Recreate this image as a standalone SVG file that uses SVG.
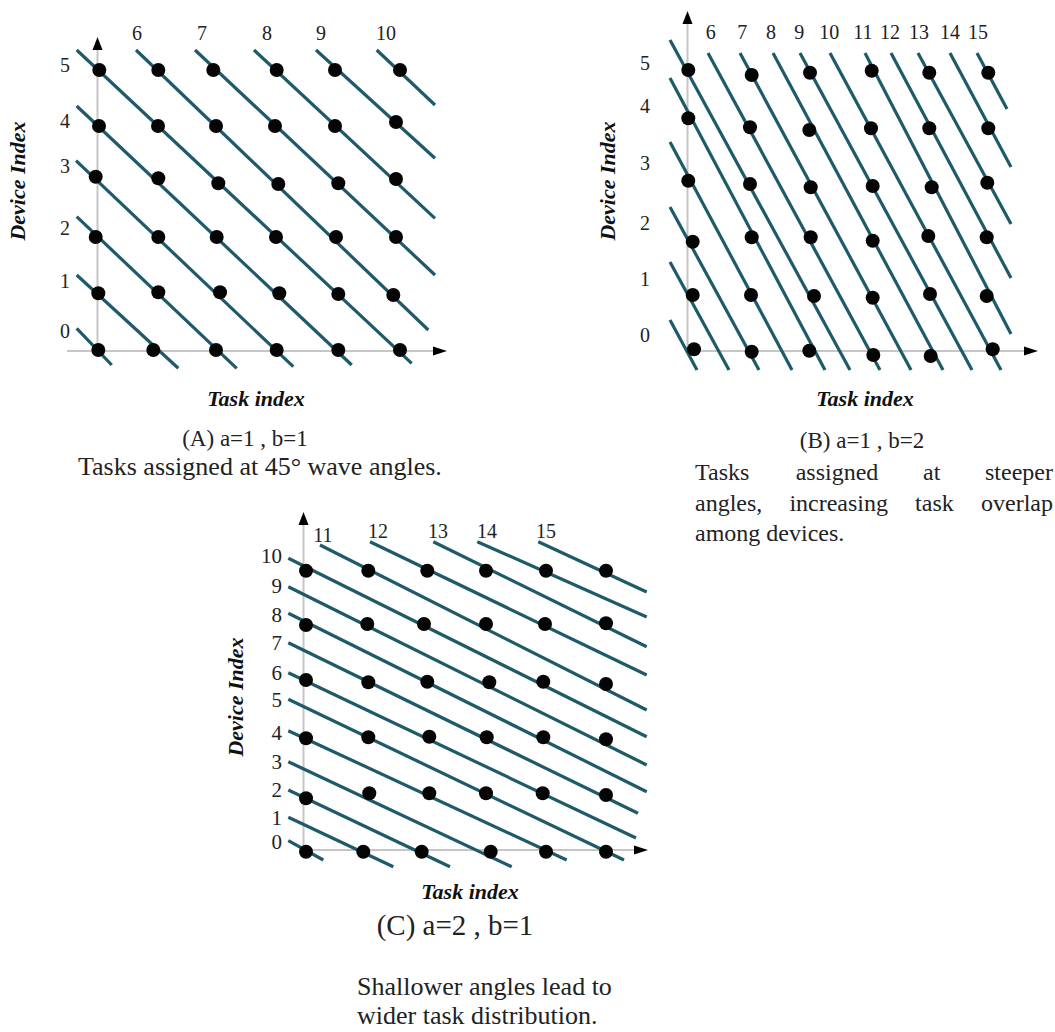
<svg xmlns="http://www.w3.org/2000/svg" width="1055" height="1032" viewBox="0 0 1055 1032">
<style>
.bg{fill:#ffffff}
.axis{stroke:#c6c6c6;stroke-width:2;fill:none}
.arrow{fill:#000}
.wave{stroke:#1f5a6a;stroke-width:3.2;fill:none}
.dot{fill:#050505}
.tick{font-family:"Liberation Serif","Times New Roman",serif;font-size:20px;fill:#222}
.tickc{font-family:"Liberation Serif","Times New Roman",serif;font-size:21px;fill:#222}
.axlabel{font-family:"Liberation Serif","Times New Roman",serif;font-size:22px;font-weight:bold;font-style:italic;fill:#111}
.cap{font-family:"Liberation Serif","Times New Roman",serif;font-size:23px;fill:#222}
.capc{font-family:"Liberation Serif","Times New Roman",serif;font-size:29px;fill:#222}
.desc{font-family:"Liberation Serif","Times New Roman",serif;font-size:26px;fill:#222}
.descb{font-family:"Liberation Serif","Times New Roman",serif;font-size:24px;fill:#222}
.descc{font-family:"Liberation Serif","Times New Roman",serif;font-size:26px;fill:#222}
</style>
<rect class="bg" x="0" y="0" width="1055" height="1032"/>

<!-- Panel A -->
<g id="panel-a">
  <g id="a-axes">
    <line class="axis" x1="97.5" y1="48" x2="97.5" y2="351"/>
    <line class="axis" x1="67" y1="351" x2="435" y2="351"/>
    <polygon class="arrow" points="97.5,37 92.5,50 102.5,50"/>
    <polygon class="arrow" points="447,351 433,346.5 433,355.5"/>
  </g>
  <g id="a-waves">
    <line class="wave" x1="76.7" y1="328.3" x2="111.7" y2="365"/>
    <line class="wave" x1="76.7" y1="275" x2="178.3" y2="368.3"/>
    <line class="wave" x1="76.7" y1="216.7" x2="236.7" y2="368.3"/>
    <line class="wave" x1="76" y1="160.7" x2="293.3" y2="366.7"/>
    <line class="wave" x1="76.7" y1="106" x2="351.7" y2="365"/>
    <line class="wave" x1="76.7" y1="50" x2="411.7" y2="363.3"/>
    <line class="wave" x1="136" y1="50" x2="428.3" y2="330"/>
    <line class="wave" x1="195" y1="50" x2="435" y2="275"/>
    <line class="wave" x1="254" y1="50" x2="435" y2="218.3"/>
    <line class="wave" x1="316" y1="50" x2="435" y2="158.3"/>
    <line class="wave" x1="376.7" y1="50" x2="435" y2="105"/>
  </g>
  <g id="a-dots">
    <circle class="dot" cx="99.3" cy="70" r="7"/><circle class="dot" cx="158.3" cy="70" r="7"/><circle class="dot" cx="213.3" cy="70" r="7"/><circle class="dot" cx="276.7" cy="70" r="7"/><circle class="dot" cx="335" cy="70" r="7"/><circle class="dot" cx="400" cy="70" r="7"/>
    <circle class="dot" cx="99" cy="126" r="7"/><circle class="dot" cx="158" cy="126" r="7"/><circle class="dot" cx="216" cy="126" r="7"/><circle class="dot" cx="275" cy="126" r="7"/><circle class="dot" cx="335" cy="126" r="7"/><circle class="dot" cx="396" cy="122" r="7"/>
    <circle class="dot" cx="95.7" cy="176.7" r="7"/><circle class="dot" cx="158.3" cy="178.3" r="7"/><circle class="dot" cx="218.3" cy="183.3" r="7"/><circle class="dot" cx="278.3" cy="184" r="7"/><circle class="dot" cx="338.3" cy="183.3" r="7"/><circle class="dot" cx="396" cy="179" r="7"/>
    <circle class="dot" cx="95.7" cy="237" r="7"/><circle class="dot" cx="158.3" cy="237" r="7"/><circle class="dot" cx="216.7" cy="237" r="7"/><circle class="dot" cx="276" cy="237" r="7"/><circle class="dot" cx="336" cy="237" r="7"/><circle class="dot" cx="396" cy="237" r="7"/>
    <circle class="dot" cx="98.3" cy="293.3" r="7"/><circle class="dot" cx="158.3" cy="292.3" r="7"/><circle class="dot" cx="220" cy="292.3" r="7"/><circle class="dot" cx="279.3" cy="293.3" r="7"/><circle class="dot" cx="338.3" cy="294" r="7"/><circle class="dot" cx="393.3" cy="295" r="7"/>
    <circle class="dot" cx="98.3" cy="350" r="7"/><circle class="dot" cx="153.3" cy="350" r="7"/><circle class="dot" cx="216" cy="350" r="7"/><circle class="dot" cx="276.7" cy="350" r="7"/><circle class="dot" cx="338.3" cy="350" r="7"/><circle class="dot" cx="400" cy="350" r="7"/>
  </g>
  <g id="a-labels">
    <text class="tick" x="65" y="72" text-anchor="middle">5</text>
    <text class="tick" x="65" y="128" text-anchor="middle">4</text>
    <text class="tick" x="65" y="173" text-anchor="middle">3</text>
    <text class="tick" x="65" y="235" text-anchor="middle">2</text>
    <text class="tick" x="65" y="288" text-anchor="middle">1</text>
    <text class="tick" x="65" y="338" text-anchor="middle">0</text>
    <text class="tick" x="137" y="40" text-anchor="middle">6</text>
    <text class="tick" x="202" y="40" text-anchor="middle">7</text>
    <text class="tick" x="267" y="40" text-anchor="middle">8</text>
    <text class="tick" x="321" y="40" text-anchor="middle">9</text>
    <text class="tick" x="386" y="40" text-anchor="middle">10</text>
    <text class="axlabel" transform="translate(25,181) rotate(-90)" text-anchor="middle">Device Index</text>
    <text class="axlabel" x="256" y="406" text-anchor="middle">Task index</text>
    <text class="cap" x="245" y="446" text-anchor="middle">(A) a=1 , b=1</text>
    <text class="desc" x="78" y="475">Tasks assigned at 45° wave angles.</text>
  </g>
</g>

<!-- Panel B -->
<g id="panel-b">
  <g id="b-axes">
    <line class="axis" x1="687.5" y1="22" x2="687.5" y2="351"/>
    <line class="axis" x1="687" y1="351" x2="1026" y2="351"/>
    <polygon class="arrow" points="687.5,11 682.5,24 692.5,24"/>
    <polygon class="arrow" points="1038,351 1024,346.5 1024,355.5"/>
  </g>
  <g id="b-waves">
    <line class="wave" x1="670" y1="320" x2="697" y2="370"/>
    <line class="wave" x1="670" y1="262" x2="729" y2="370"/>
    <line class="wave" x1="670" y1="207" x2="759" y2="370"/>
    <line class="wave" x1="670" y1="142" x2="792" y2="370"/>
    <line class="wave" x1="670" y1="78" x2="825" y2="370"/>
    <line class="wave" x1="670" y1="40" x2="850" y2="370"/>
    <line class="wave" x1="708" y1="53" x2="880" y2="370"/>
    <line class="wave" x1="740" y1="53" x2="911" y2="370"/>
    <line class="wave" x1="773" y1="53" x2="943" y2="370"/>
    <line class="wave" x1="800" y1="53" x2="972" y2="370"/>
    <line class="wave" x1="830" y1="53" x2="1001" y2="370"/>
    <line class="wave" x1="865" y1="53" x2="1011" y2="334"/>
    <line class="wave" x1="891" y1="53" x2="1011" y2="278"/>
    <line class="wave" x1="918" y1="53" x2="1011" y2="224"/>
    <line class="wave" x1="950" y1="53" x2="1011" y2="167"/>
    <line class="wave" x1="977" y1="53" x2="1007" y2="109"/>
  </g>
  <g id="b-dots">
    <circle class="dot" cx="688.3" cy="70" r="7"/><circle class="dot" cx="751.7" cy="75" r="7"/><circle class="dot" cx="810" cy="72.7" r="7"/><circle class="dot" cx="871.7" cy="70.7" r="7"/><circle class="dot" cx="929.3" cy="72.7" r="7"/><circle class="dot" cx="988.3" cy="72.7" r="7"/>
    <circle class="dot" cx="688.3" cy="118.3" r="7"/><circle class="dot" cx="750" cy="127.3" r="7"/><circle class="dot" cx="809.3" cy="130" r="7"/><circle class="dot" cx="871" cy="128.3" r="7"/><circle class="dot" cx="929.3" cy="128.3" r="7"/><circle class="dot" cx="988.3" cy="128.3" r="7"/>
    <circle class="dot" cx="688.3" cy="180.7" r="7"/><circle class="dot" cx="750" cy="184" r="7"/><circle class="dot" cx="810.7" cy="187.3" r="7"/><circle class="dot" cx="872.7" cy="186" r="7"/><circle class="dot" cx="931.7" cy="187.3" r="7"/><circle class="dot" cx="987.3" cy="182.7" r="7"/>
    <circle class="dot" cx="692.7" cy="241.7" r="7"/><circle class="dot" cx="751.7" cy="237.3" r="7"/><circle class="dot" cx="810.7" cy="237.3" r="7"/><circle class="dot" cx="872.7" cy="240.7" r="7"/><circle class="dot" cx="928.3" cy="236" r="7"/><circle class="dot" cx="986.7" cy="237.3" r="7"/>
    <circle class="dot" cx="692.7" cy="295" r="7"/><circle class="dot" cx="751" cy="295" r="7"/><circle class="dot" cx="814" cy="296" r="7"/><circle class="dot" cx="872.7" cy="297.7" r="7"/><circle class="dot" cx="930" cy="294" r="7"/><circle class="dot" cx="986.7" cy="296" r="7"/>
    <circle class="dot" cx="694" cy="349.3" r="7"/><circle class="dot" cx="751.7" cy="351.7" r="7"/><circle class="dot" cx="809.3" cy="350.7" r="7"/><circle class="dot" cx="873.3" cy="355" r="7"/><circle class="dot" cx="930.7" cy="356" r="7"/><circle class="dot" cx="992.7" cy="349.3" r="7"/>
  </g>
  <g id="b-labels">
    <text class="tick" x="645" y="70" text-anchor="middle">5</text>
    <text class="tick" x="645" y="113" text-anchor="middle">4</text>
    <text class="tick" x="645" y="170" text-anchor="middle">3</text>
    <text class="tick" x="645" y="230" text-anchor="middle">2</text>
    <text class="tick" x="645" y="286" text-anchor="middle">1</text>
    <text class="tick" x="645" y="342" text-anchor="middle">0</text>
    <text class="tick" x="710.7" y="39" text-anchor="middle">6</text>
    <text class="tick" x="742.3" y="39" text-anchor="middle">7</text>
    <text class="tick" x="771" y="39" text-anchor="middle">8</text>
    <text class="tick" x="799.3" y="39" text-anchor="middle">9</text>
    <text class="tick" x="829.3" y="39" text-anchor="middle">10</text>
    <text class="tick" x="863" y="39" text-anchor="middle">11</text>
    <text class="tick" x="890" y="39" text-anchor="middle">12</text>
    <text class="tick" x="919" y="39" text-anchor="middle">13</text>
    <text class="tick" x="950" y="39" text-anchor="middle">14</text>
    <text class="tick" x="978" y="39" text-anchor="middle">15</text>
    <text class="axlabel" transform="translate(615,181) rotate(-90)" text-anchor="middle">Device Index</text>
    <text class="axlabel" x="865" y="406" text-anchor="middle">Task index</text>
    <text class="cap" x="862" y="448" text-anchor="middle">(B) a=1 , b=2</text>
    <text class="descb" y="480"><tspan x="695">Tasks</tspan><tspan x="795.7">assigned</tspan><tspan x="923">at</tspan><tspan x="1053" text-anchor="end">steeper</tspan></text>
    <text class="descb" y="511"><tspan x="695">angles,</tspan><tspan x="789.4">increasing</tspan><tspan x="915.1">task</tspan><tspan x="1053" text-anchor="end">overlap</tspan></text>
    <text class="descb" x="695" y="541">among devices.</text>
  </g>
</g>

<!-- Panel C -->
<g id="panel-c">
  <g id="c-axes">
    <line class="axis" x1="303.5" y1="524" x2="303.5" y2="851"/>
    <line class="axis" x1="300" y1="850" x2="636" y2="850"/>
    <polygon class="arrow" points="303.5,512 298.5,525 308.5,525"/>
    <polygon class="arrow" points="648,850 634,845.5 634,854.5"/>
  </g>
  <g id="c-waves">
    <line class="wave" x1="538.3" y1="541.7" x2="646.7" y2="592"/>
    <line class="wave" x1="477.3" y1="541.7" x2="646.7" y2="617"/>
    <line class="wave" x1="433.3" y1="541.7" x2="646.7" y2="646.7"/>
    <line class="wave" x1="370" y1="541.7" x2="646.7" y2="675"/>
    <line class="wave" x1="320" y1="545" x2="646.7" y2="710"/>
    <line class="wave" x1="288.3" y1="558.3" x2="646.7" y2="736.7"/>
    <line class="wave" x1="288.3" y1="586.7" x2="646.7" y2="765"/>
    <line class="wave" x1="288.3" y1="613.3" x2="646.7" y2="791.7"/>
    <line class="wave" x1="288.3" y1="642.7" x2="638" y2="813.3"/>
    <line class="wave" x1="288.3" y1="672.7" x2="636" y2="838"/>
    <line class="wave" x1="288.3" y1="699.3" x2="624" y2="860"/>
    <line class="wave" x1="288.3" y1="730.7" x2="566.7" y2="860"/>
    <line class="wave" x1="288.3" y1="761.7" x2="511.7" y2="866.7"/>
    <line class="wave" x1="288.3" y1="790" x2="450" y2="866.7"/>
    <line class="wave" x1="288.3" y1="817.3" x2="393.3" y2="866.7"/>
    <line class="wave" x1="288.3" y1="840.7" x2="323.3" y2="860"/>
  </g>
  <g id="c-dots">
    <circle class="dot" cx="306" cy="570.7" r="7"/><circle class="dot" cx="368.3" cy="570.7" r="7"/><circle class="dot" cx="427.3" cy="570.7" r="7"/><circle class="dot" cx="486" cy="570.7" r="7"/><circle class="dot" cx="546" cy="570.7" r="7"/><circle class="dot" cx="606" cy="570.7" r="7"/>
    <circle class="dot" cx="306" cy="625" r="7"/><circle class="dot" cx="367.3" cy="624" r="7"/><circle class="dot" cx="424" cy="624" r="7"/><circle class="dot" cx="486" cy="624" r="7"/><circle class="dot" cx="545" cy="624" r="7"/><circle class="dot" cx="606" cy="623.3" r="7"/>
    <circle class="dot" cx="306" cy="680" r="7"/><circle class="dot" cx="368.3" cy="682.3" r="7"/><circle class="dot" cx="427.3" cy="681.7" r="7"/><circle class="dot" cx="489.3" cy="682.3" r="7"/><circle class="dot" cx="543.3" cy="681.7" r="7"/><circle class="dot" cx="606" cy="684" r="7"/>
    <circle class="dot" cx="306" cy="738.3" r="7"/><circle class="dot" cx="368.3" cy="737.3" r="7"/><circle class="dot" cx="429.3" cy="736.7" r="7"/><circle class="dot" cx="486.7" cy="737.3" r="7"/><circle class="dot" cx="543.3" cy="737.3" r="7"/><circle class="dot" cx="606" cy="739.3" r="7"/>
    <circle class="dot" cx="306" cy="798.3" r="7"/><circle class="dot" cx="369.3" cy="793.3" r="7"/><circle class="dot" cx="429.3" cy="793.3" r="7"/><circle class="dot" cx="486" cy="793.3" r="7"/><circle class="dot" cx="542.7" cy="793.3" r="7"/><circle class="dot" cx="606" cy="795" r="7"/>
    <circle class="dot" cx="306" cy="851.7" r="7"/><circle class="dot" cx="363.3" cy="851.7" r="7"/><circle class="dot" cx="421.7" cy="851.7" r="7"/><circle class="dot" cx="490.7" cy="851.7" r="7"/><circle class="dot" cx="546" cy="851.7" r="7"/><circle class="dot" cx="606" cy="851.7" r="7"/>
  </g>
  <g id="c-labels">
    <text class="tickc" x="282" y="563" text-anchor="end">10</text>
    <text class="tickc" x="282" y="593" text-anchor="end">9</text>
    <text class="tickc" x="282" y="622" text-anchor="end">8</text>
    <text class="tickc" x="282" y="650" text-anchor="end">7</text>
    <text class="tickc" x="282" y="680" text-anchor="end">6</text>
    <text class="tickc" x="282" y="707" text-anchor="end">5</text>
    <text class="tickc" x="282" y="740" text-anchor="end">4</text>
    <text class="tickc" x="282" y="769" text-anchor="end">3</text>
    <text class="tickc" x="282" y="797" text-anchor="end">2</text>
    <text class="tickc" x="282" y="825" text-anchor="end">1</text>
    <text class="tickc" x="282" y="849" text-anchor="end">0</text>
    <text class="tick" x="323" y="542" text-anchor="middle">11</text>
    <text class="tick" x="378" y="538" text-anchor="middle">12</text>
    <text class="tick" x="438" y="538" text-anchor="middle">13</text>
    <text class="tick" x="487" y="538" text-anchor="middle">14</text>
    <text class="tick" x="546" y="538" text-anchor="middle">15</text>
    <text class="axlabel" transform="translate(243,697) rotate(-90)" text-anchor="middle">Device Index</text>
    <text class="axlabel" x="470" y="899" text-anchor="middle">Task index</text>
    <text class="capc" x="455" y="935" text-anchor="middle">(C) a=2 , b=1</text>
    <text class="descc" x="357" y="995">Shallower angles lead to</text>
    <text class="descc" x="357" y="1024">wider task distribution.</text>
  </g>
</g>
</svg>
